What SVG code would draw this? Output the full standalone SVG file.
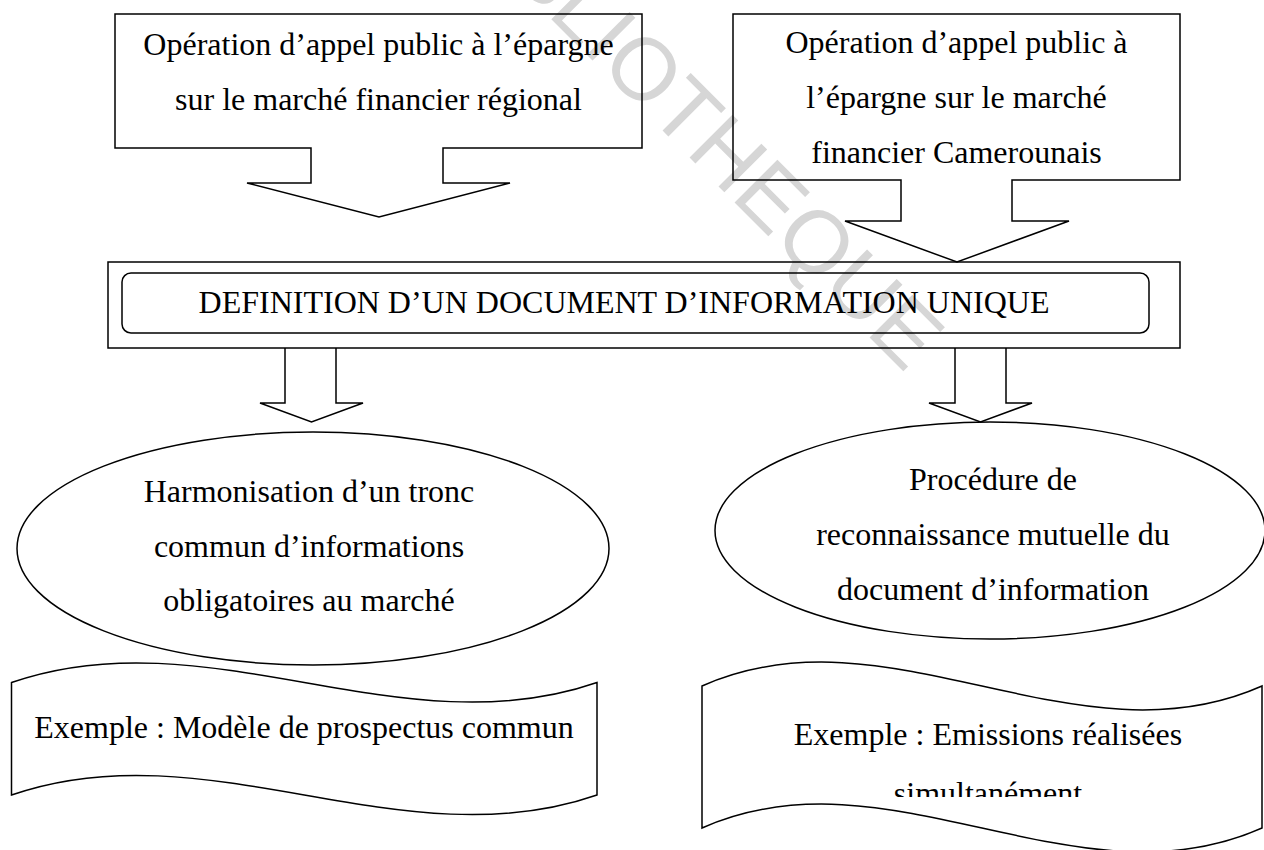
<svg xmlns="http://www.w3.org/2000/svg" width="1264" height="850" viewBox="0 0 1264 850">
  <defs>
    <style>
      .shape { fill: none; stroke: #000; stroke-width: 1.5; stroke-linejoin: miter; }
      .lbl { font-family: "Liberation Serif", "Times New Roman", serif; font-size: 32px; fill: #000; text-anchor: middle; }
      .mark { font-family: "Liberation Sans", Arial, sans-serif; font-size: 88px; fill: #d6d6d6; }
    </style>
    <clipPath id="bannerTextClip">
      <rect x="700" y="600" width="564" height="197"/>
    </clipPath>
  </defs>

  <rect width="1264" height="850" fill="#fff"/>

  <!-- background stamp -->
  <text class="mark" transform="translate(446,-86) rotate(45)">BIBLIOTHEQUE</text>

  <!-- callout: regional market -->
  <g id="node-regional">
    <path class="shape" d="M115,14 H642 V148 H443 V183 H510 L379,217 L247,183 H311 V148 H115 Z"/>
    <text class="lbl" x="378.5" y="55">Opération d’appel public à l’épargne</text>
    <text class="lbl" x="378.5" y="110">sur le marché financier régional</text>
  </g>

  <!-- callout: Cameroon market -->
  <g id="node-cameroun">
    <path class="shape" d="M733,14 H1180 V180 H1012 V221 H1069 L957,262 L845,221 H901 V180 H733 Z"/>
    <text class="lbl" x="956.5" y="53">Opération d’appel public à</text>
    <text class="lbl" x="956.5" y="108">l’épargne sur le marché</text>
    <text class="lbl" x="956.5" y="163">financier Camerounais</text>
  </g>

  <!-- central definition box -->
  <g id="node-definition">
    <rect class="shape" x="108" y="262" width="1072" height="86"/>
    <rect class="shape" x="122" y="273" width="1027" height="60" rx="9" ry="9"/>
    <text class="lbl" x="624" y="313">DEFINITION D’UN DOCUMENT D’INFORMATION UNIQUE</text>
  </g>

  <!-- block arrows leaving the definition box -->
  <g id="connectors">
    <path class="shape" d="M285,348 V403 H260 L311.5,422 L363,403 H336 V348"/>
    <path class="shape" d="M955,348 V403 H929 L980.5,422 L1032,403 H1006 V348"/>
  </g>

  <!-- harmonisation ellipse -->
  <g id="node-harmonisation">
    <ellipse class="shape" cx="313" cy="548.5" rx="296" ry="116.5"/>
    <text class="lbl" x="309" y="502">Harmonisation d’un tronc</text>
    <text class="lbl" x="309" y="557">commun d’informations</text>
    <text class="lbl" x="309" y="611">obligatoires au marché</text>
  </g>

  <!-- mutual recognition ellipse -->
  <g id="node-reconnaissance">
    <ellipse class="shape" cx="990" cy="530.5" rx="275" ry="108.5"/>
    <text class="lbl" x="993" y="490">Procédure de</text>
    <text class="lbl" x="993" y="545">reconnaissance mutuelle du</text>
    <text class="lbl" x="993" y="600">document d’information</text>
  </g>

  <!-- example banner, left -->
  <g id="node-exemple-prospectus">
    <path class="shape" d="M11.5,682.5 C206.7,614.5 401.8,750.5 597,682.5 L597,795 C401.8,863 206.7,727 11.5,795 Z"/>
    <text class="lbl" x="304" y="738">Exemple : Modèle de prospectus commun</text>
  </g>

  <!-- example banner, right -->
  <g id="node-exemple-emissions">
    <path class="shape" d="M702,686 C888.7,603 1075.3,769 1262,686 L1262,828 C1075.3,911 888.7,745 702,828 Z"/>
    <text class="lbl" x="988" y="745">Exemple : Emissions réalisées</text>
    <text class="lbl" x="988" y="804" clip-path="url(#bannerTextClip)">simultanément</text>
  </g>
</svg>
